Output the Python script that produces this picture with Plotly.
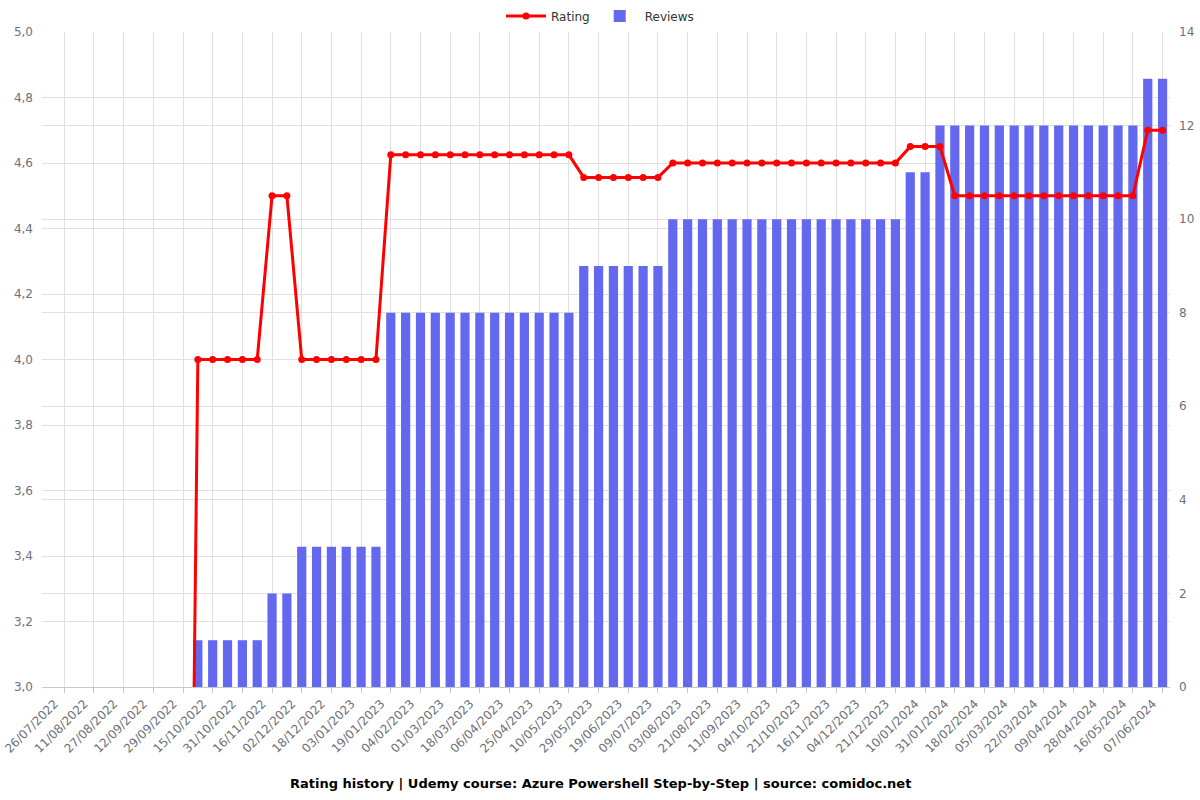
import plotly.graph_objects as go

# ---- data ----
dates = [
    "26/07/2022", "03/08/2022", "11/08/2022", "19/08/2022", "27/08/2022", "04/09/2022",
    "12/09/2022", "20/09/2022", "29/09/2022", "07/10/2022", "15/10/2022", "23/10/2022",
    "31/10/2022", "08/11/2022", "16/11/2022", "24/11/2022", "02/12/2022", "10/12/2022",
    "18/12/2022", "26/12/2022", "03/01/2023", "11/01/2023", "19/01/2023", "27/01/2023",
    "04/02/2023", "16/02/2023", "01/03/2023", "09/03/2023", "18/03/2023", "27/03/2023",
    "06/04/2023", "15/04/2023", "25/04/2023", "02/05/2023", "10/05/2023", "19/05/2023",
    "29/05/2023", "08/06/2023", "19/06/2023", "29/06/2023", "09/07/2023", "21/07/2023",
    "03/08/2023", "12/08/2023", "21/08/2023", "31/08/2023", "11/09/2023", "22/09/2023",
    "04/10/2023", "12/10/2023", "21/10/2023", "02/11/2023", "16/11/2023", "25/11/2023",
    "04/12/2023", "12/12/2023", "21/12/2023", "30/12/2023", "10/01/2024", "20/01/2024",
    "31/01/2024", "09/02/2024", "18/02/2024", "26/02/2024", "05/03/2024", "14/03/2024",
    "22/03/2024", "31/03/2024", "09/04/2024", "19/04/2024", "28/04/2024", "07/05/2024",
    "16/05/2024", "27/05/2024", "07/06/2024", "18/06/2024",
]

rating = (
    [0] * 10
    + [4.0] * 5
    + [4.5] * 2
    + [4.0] * 6
    + [4.625] * 13
    + [4.556] * 6
    + [4.6] * 16
    + [4.65] * 3
    + [4.5] * 13
    + [4.7] * 2
)

reviews = (
    [0] * 10
    + [1] * 5
    + [2] * 2
    + [3] * 6
    + [8] * 13
    + [9] * 6
    + [10] * 16
    + [11] * 2
    + [12] * 14
    + [13] * 2
)

label_step = 2
title_text = "Rating history | Udemy course: Azure Powershell Step-by-Step | source: comidoc.net"

x_idx = list(range(len(dates)))

FONT = "DejaVu Sans"
TICK_COLOR = "#6e7079"
GRID = "#e0e0e0"
LABEL_NUDGE = 0.35  # small rightward nudge of rotated labels, in category units

fig = go.Figure()

fig.add_trace(go.Bar(
    x=x_idx, y=reviews, name="Reviews",
    marker=dict(color="#6468EF", line=dict(width=0)),
    width=0.62, yaxis="y",
))

fig.add_trace(go.Scatter(
    x=x_idx, y=rating, name="Rating", mode="lines+markers",
    line=dict(color="#ff0000", width=3),
    marker=dict(color="#ff0000", size=7),
    yaxis="y2",
))

fig.update_layout(
    width=1200, height=800,
    margin=dict(l=42, r=30, t=32, b=113, autoexpand=False),
    paper_bgcolor="white", plot_bgcolor="white",
    separators=",.",
    font=dict(family=FONT, size=12, color=TICK_COLOR),
    showlegend=True,
    legend=dict(
        orientation="h", xref="container", yref="container",
        x=0.5, xanchor="center", y=1 - 16 / 800, yanchor="middle",
        font=dict(family=FONT, size=12, color="#333"),
        traceorder="reversed",
        itemwidth=40,
    ),
    bargap=0.3,
    xaxis=dict(
        range=[-0.5, len(dates) - 0.5],
        tickmode="array",
        tickvals=[i + LABEL_NUDGE for i in x_idx[::label_step]],
        ticktext=dates[::label_step],
        tickangle=-45,
        ticklabeloverflow="allow",
        ticklabelstandoff=4,
        showgrid=False,
        ticks="",
        showline=True, linecolor="#c8c8c8", linewidth=1,
        tickfont=dict(family=FONT, size=12, color=TICK_COLOR),
        minor=dict(
            tickmode="linear", tick0=1, dtick=label_step,
            showgrid=True, gridcolor=GRID, gridwidth=1,
            ticks="outside", ticklen=5, tickcolor="#c8c8c8",
        ),
        zeroline=False,
    ),
    yaxis=dict(
        range=[0, 14], dtick=2, side="right",
        showgrid=True, gridcolor=GRID, zeroline=False,
        ticks="", ticklabelstandoff=8,
        tickfont=dict(family=FONT, size=12, color=TICK_COLOR),
    ),
    yaxis2=dict(
        range=[3.0, 5.0], dtick=0.2, tickformat=".1f",
        side="left", overlaying="y",
        showgrid=True, gridcolor=GRID, zeroline=False,
        ticks="", ticklabelstandoff=8,
        tickfont=dict(family=FONT, size=12, color=TICK_COLOR),
    ),
    annotations=[dict(
        text="<b>" + title_text + "</b>",
        xref="paper", yref="paper", x=(600 - 42) / 1128, y=(687 - 783) / 655,
        xanchor="center", yanchor="middle", showarrow=False,
        font=dict(family=FONT, size=13, color="#000"),
    )],
)

fig.write_html("out.html")
